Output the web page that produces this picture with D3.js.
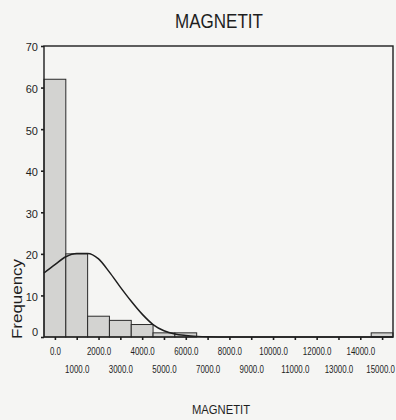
<!DOCTYPE html>
<html>
<head>
<meta charset="utf-8">
<script src="https://cdn.jsdelivr.net/npm/d3@7"></script>
<style>
  html, body { margin: 0; padding: 0; background: #f5f5f3; }
  svg { display: block; }
  text { fill: #1e1e1e; }
</style>
</head>
<body>
<svg id="chart" width="396" height="420"></svg>
<script>
// ---- data ----
const binCenters = [0, 1000, 2000, 3000, 4000, 5000, 6000, 7000, 8000, 9000, 10000, 11000, 12000, 13000, 14000, 15000];
const frequencies = [62, 20, 5, 4, 3, 1, 1, 0, 0, 0, 0, 0, 0, 0, 0, 1];
const binWidth = 1000;
const xTickLabels = ["0.0", "1000.0", "2000.0", "3000.0", "4000.0", "5000.0", "6000.0", "7000.0",
                     "8000.0", "9000.0", "10000.0", "11000.0", "12000.0", "13000.0", "14000.0", "15000.0"];
const yTicks = [0, 10, 20, 30, 40, 50, 60, 70];
// normal curve
const curveX = [-500, 0, 500, 1000, 1500, 2000, 2500, 3000, 3500, 4000, 4500, 5000, 5500, 6000, 6500, 7000, 8000, 10000, 12000, 14000, 15500];
const curveY = [15.4, 17.4, 19.3, 20.1, 20.1, 18.8, 15.6, 12.0, 8.6, 5.5, 3.0, 1.5, 0.7, 0.35, 0.15, 0.05, 0, 0, 0, 0, 0];
const chartTitle = "MAGNETIT";
const xTitle = "MAGNETIT";
const yTitle = "Frequency";

// ---- layout ----
const svg = d3.select("#chart");
const plotLeft = 44, plotRight = 393, plotTop = 46, plotBottom = 337;
const regular = "'Liberation Sans', Arial, sans-serif";

const x = d3.scaleLinear().domain([-500, 15500]).range([plotLeft, plotRight]);
const y = d3.scaleLinear().domain([0, 70]).range([plotBottom, plotTop]);

// bars
const bars = binCenters.map((c, i) => ({ c, f: frequencies[i] })).filter(d => d.f > 0);
svg.append("g").selectAll("rect").data(bars).join("rect")
  .attr("x", d => x(d.c - binWidth / 2))
  .attr("y", d => y(d.f))
  .attr("width", d => x(d.c + binWidth / 2) - x(d.c - binWidth / 2))
  .attr("height", d => y(0) - y(d.f))
  .attr("fill", "#d3d3d1")
  .attr("stroke", "#2a2a2a")
  .attr("stroke-width", 1);

// normal curve
const line = d3.line()
  .x((d, i) => x(curveX[i]))
  .y((d, i) => y(curveY[i]))
  .curve(d3.curveMonotoneX);
svg.append("path")
  .attr("d", line(curveX))
  .attr("fill", "none")
  .attr("stroke", "#1e1e1e")
  .attr("stroke-width", 1.5);

// frame
svg.append("rect")
  .attr("x", plotLeft).attr("y", plotTop)
  .attr("width", plotRight - plotLeft).attr("height", plotBottom - plotTop)
  .attr("fill", "none")
  .attr("stroke", "#1e1e1e")
  .attr("stroke-width", 1.4);

// y axis
const yAxis = svg.append("g")
  .attr("transform", `translate(${plotLeft},0)`)
  .call(d3.axisLeft(y).tickValues(yTicks).tickSize(3).tickPadding(3).tickFormat(d3.format("d")));
yAxis.select(".domain").remove();
yAxis.selectAll("line").attr("stroke", "#1e1e1e").attr("stroke-width", 1.6);
yAxis.selectAll("text")
  .attr("font-family", regular).attr("font-size", 11).attr("fill", "#1e1e1e")
  .attr("dy", d => d === 0 ? "-0.15em" : "0.45em");

// x axis
const xAxis = svg.append("g")
  .attr("transform", `translate(0,${plotBottom})`)
  .call(d3.axisBottom(x).tickValues(binCenters).tickSize(3)
    .tickFormat((d, i) => xTickLabels[i]));
xAxis.select(".domain").remove();
xAxis.selectAll("line").attr("stroke", "#1e1e1e").attr("stroke-width", 1.6);
xAxis.selectAll("text")
  .attr("font-family", regular).attr("font-size", 11).attr("fill", "#1e1e1e")
  .attr("dy", 0)
  .attr("y", (d, i) => i % 2 === 0 ? 18 : 36)
  .attr("transform", (d, i) => (i === xTickLabels.length - 1 ? "translate(-2,0) " : "") + "scale(0.72,1)");

// titles
svg.append("text")
  .attr("x", 219).attr("y", 28)
  .attr("text-anchor", "middle")
  .attr("font-family", regular).attr("font-size", 20)
  .attr("textLength", 88).attr("lengthAdjust", "spacingAndGlyphs")
  .text(chartTitle);

svg.append("text")
  .attr("x", 221).attr("y", 414)
  .attr("text-anchor", "middle")
  .attr("font-family", regular).attr("font-size", 12.5)
  .attr("textLength", 58).attr("lengthAdjust", "spacingAndGlyphs")
  .text(xTitle);

svg.append("text")
  .attr("transform", "translate(22,299) rotate(-90)")
  .attr("text-anchor", "middle")
  .attr("font-family", regular).attr("font-size", 15)
  .attr("textLength", 80).attr("lengthAdjust", "spacingAndGlyphs")
  .text(yTitle);
</script>
</body>
</html>
